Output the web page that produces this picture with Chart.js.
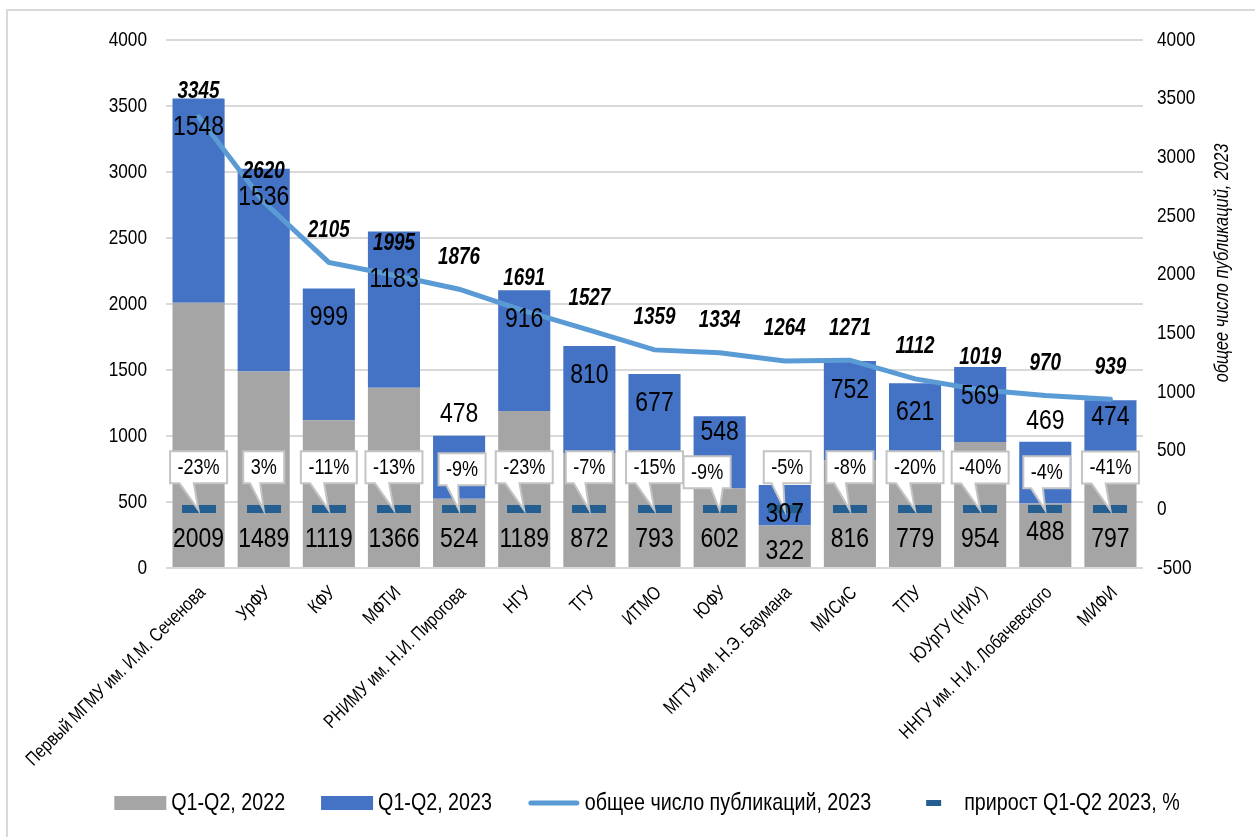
<!DOCTYPE html>
<html>
<head>
<meta charset="utf-8">
<script src="https://cdn.jsdelivr.net/npm/chart.js@4.4.0/dist/chart.umd.min.js"></script>
<style>
  html, body { margin: 0; padding: 0; background: #fff; }
  #box { position: relative; width: 1255px; height: 837px; }
</style>
</head>
<body>
<div id="box"><canvas id="chart" width="1255" height="837"></canvas></div>
<script>
// Data
const categories = ['Первый МГМУ им. И.М. Сеченова', 'УрФУ', 'КФУ', 'МФТИ', 'РНИМУ им. Н.И. Пирогова', 'НГУ', 'ТГУ', 'ИТМО', 'ЮФУ', 'МГТУ им. Н.Э. Баумана', 'МИСиС', 'ТПУ', 'ЮУрГУ (НИУ)', 'ННГУ им. Н.И. Лобачевского', 'МИФИ'];
const pubs2022 = [2009, 1489, 1119, 1366, 524, 1189, 872, 793, 602, 322, 816, 779, 954, 488, 797];
const pubs2023 = [1548, 1536, 999, 1183, 478, 916, 810, 677, 548, 307, 752, 621, 569, 469, 474];
const total2023 = [3345, 2620, 2105, 1995, 1876, 1691, 1527, 1359, 1334, 1264, 1271, 1112, 1019, 970, 939];
const growthPct = [-23, 3, -11, -13, -9, -23, -7, -15, -9, -5, -8, -20, -40, -4, -41];
const leftTicks = [0, 500, 1000, 1500, 2000, 2500, 3000, 3500, 4000];
const rightTicks = [-500, 0, 500, 1000, 1500, 2000, 2500, 3000, 3500, 4000];
const seriesNames = ['Q1-Q2, 2022', 'Q1-Q2, 2023', 'общее число публикаций, 2023', 'прирост Q1-Q2 2023, %'];
const rightTitle = 'общее число публикаций, 2023';

// Arial Narrow look: Liberation Sans squeezed horizontally
const FONT = "'Liberation Sans', Arial, sans-serif";
const SQUEEZE = 0.82;
const GRAY = '#a5a5a5', BLUE = '#4472c4', LINE = '#5b9bd5', DASH = '#255e91', GRID = '#d9d9d9';

// Label tweaks (offsets only, per category index)
const blueLabelDy = { 3: 48, 4: -21, 8: 16, 13: -20, 14: 17 };
const grayLabelDy = { 9: 16, 13: 35 };
const totalLabelDy = { 0: 25, 1: 30 };
const calloutPos = { 4: { dx: 3, dy: -24 }, 8: { dx: -12.5, dy: -21 }, 9: { dx: 2.5, dy: -26 }, 13: { dx: 1.5, dy: -21 } };

function text(ctx, txt, x, y, font, align = 'center', angle = 0) {
    ctx.save();
    ctx.translate(x, y);
    if (angle) ctx.rotate(angle);
    ctx.scale(SQUEEZE, 1);
    ctx.font = font;
    ctx.textAlign = align;
    ctx.textBaseline = 'middle';
    ctx.fillStyle = '#000';
    ctx.fillText(txt, 0, 0);
    ctx.restore();
}
function textWidth(ctx, txt, font) {
    ctx.save();
    ctx.font = font;
    const w = ctx.measureText(txt).width * SQUEEZE;
    ctx.restore();
    return w;
}

const dashMarker = (() => {
    const c = document.createElement('canvas');
    c.width = 34; c.height = 8;
    const g = c.getContext('2d');
    g.fillStyle = DASH; g.fillRect(0, 0, 34, 8);
    return c;
})();

const labelsPlugin = {
    id: 'valueLabels',
    afterDatasetsDraw(chart) {
        const ctx = chart.ctx;
        const area = chart.chartArea;
        const grayMeta = chart.getDatasetMeta(0);
        const blueMeta = chart.getDatasetMeta(1);
        const lineMeta = chart.getDatasetMeta(2);
        const dashMeta = chart.getDatasetMeta(3);

        // axis tick labels
        const tickFont = `21px ${FONT}`;
        const y = chart.scales.y, y2 = chart.scales.y2, x = chart.scales.x;
        y.ticks.forEach(t => text(ctx, String(t.value), area.left - 19, y.getPixelForValue(t.value), tickFont, 'right'));
        y2.ticks.forEach(t => text(ctx, String(t.value), area.right + 14, y2.getPixelForValue(t.value), tickFont, 'left'));
        categories.forEach((c, i) => text(ctx, c, x.getPixelForValue(i) + 4, area.bottom + 22, `19px ${FONT}`, 'right', -Math.PI / 4));
        text(ctx, rightTitle, 1222, 263, `italic 20px ${FONT}`, 'center', -Math.PI / 2);

        // gray bar values
        grayMeta.data.forEach((bar, i) => {
            const dy = grayLabelDy[i] !== undefined ? grayLabelDy[i] : 28;
            text(ctx, String(pubs2022[i]), bar.x, bar.base - dy, `28px ${FONT}`);
        });

        // callouts
        const cFont = `22px ${FONT}`;
        dashMeta.data.forEach((pt, i) => {
            const txt = growthPct[i] + '%';
            const pos = calloutPos[i] || { dx: 0, dy: -26 };
            const w = Math.round(textWidth(ctx, txt, cFont) + 15);
            const h = 32;
            const cx = pt.x + pos.dx;
            const left = cx - w / 2, bottom = pt.y + pos.dy, top = bottom - h;
            const tipRight = pt.x > cx;
            const b1 = left + w * (tipRight ? 7 : 2) / 12;
            const b2 = left + w * (tipRight ? 10 : 5) / 12;
            ctx.save();
            ctx.beginPath();
            ctx.moveTo(left, top);
            ctx.lineTo(left + w, top);
            ctx.lineTo(left + w, bottom);
            ctx.lineTo(b2, bottom);
            ctx.lineTo(pt.x, pt.y + 1);
            ctx.lineTo(b1, bottom);
            ctx.lineTo(left, bottom);
            ctx.closePath();
            ctx.fillStyle = '#fff';
            ctx.fill();
            ctx.strokeStyle = '#c4c4c4';
            ctx.lineWidth = 2;
            ctx.stroke();
            ctx.restore();
            text(ctx, txt, cx, top + h / 2 + 1, cFont);
        });

        // blue bar values
        blueMeta.data.forEach((bar, i) => {
            const dy = blueLabelDy[i] !== undefined ? blueLabelDy[i] : 29;
            text(ctx, String(pubs2023[i]), bar.x, bar.y + dy, `28px ${FONT}`);
        });

        // totals
        lineMeta.data.forEach((pt, i) => {
            const dy = totalLabelDy[i] !== undefined ? totalLabelDy[i] : 32;
            text(ctx, String(total2023[i]), pt.x, pt.y - dy, `italic bold 23px ${FONT}`);
        });

        // legend
        const lFont = `24px ${FONT}`;
        const ly = 803;
        const widths = seriesNames.map(s => 52 + 5 + textWidth(ctx, s, lFont));
        const total = widths.reduce((a, b) => a + b, 0) + 36 * (widths.length - 1);
        let lx = 647 - total / 2;
        seriesNames.forEach((s, i) => {
            ctx.save();
            if (i === 0 || i === 1) {
                ctx.fillStyle = i === 0 ? GRAY : BLUE;
                ctx.fillRect(lx, ly - 7, 52, 14);
            } else if (i === 2) {
                ctx.strokeStyle = LINE; ctx.lineWidth = 5; ctx.lineCap = 'round';
                ctx.beginPath(); ctx.moveTo(lx + 3, ly); ctx.lineTo(lx + 49, ly); ctx.stroke();
            } else {
                ctx.fillStyle = DASH;
                ctx.fillRect(lx + 19, ly - 3, 15, 6);
            }
            ctx.restore();
            text(ctx, s, lx + 57, ly, lFont, 'left');
            lx += widths[i] + 36;
        });

        // frame
        ctx.save();
        ctx.strokeStyle = GRID;
        ctx.lineWidth = 2;
        ctx.beginPath();
        ctx.moveTo(7, 837);
        ctx.lineTo(7, 10);
        ctx.lineTo(1255, 10);
        ctx.stroke();
        ctx.restore();
    }
};

new Chart(document.getElementById('chart'), {
    data: {
        labels: categories,
        datasets: [
            { type: 'bar', label: seriesNames[0], data: pubs2022, backgroundColor: GRAY, yAxisID: 'y', stack: 's', order: 2, barPercentage: 0.8, categoryPercentage: 1 },
            { type: 'bar', label: seriesNames[1], data: pubs2023, backgroundColor: BLUE, yAxisID: 'y', stack: 's', order: 3, barPercentage: 0.8, categoryPercentage: 1 },
            { type: 'line', label: seriesNames[2], data: total2023, borderColor: LINE, backgroundColor: LINE, borderWidth: 5, pointRadius: 0, tension: 0, borderCapStyle: 'round', yAxisID: 'y2', order: 1 },
            { type: 'line', label: seriesNames[3], data: growthPct.map(v => v / 100), showLine: false, pointStyle: dashMarker, pointRadius: 10, yAxisID: 'y2', order: 0 }
        ]
    },
    options: {
        responsive: false,
        animation: false,
        layout: { padding: { left: 0, right: 0, top: 40, bottom: 0 } },
        scales: {
            x: {
                offset: true,
                grid: { display: false },
                border: { display: false },
                ticks: { display: false },
                afterFit: s => { s.height = 269; }
            },
            y: {
                position: 'left',
                stacked: true,
                min: 0, max: 4000,
                afterBuildTicks: s => { s.ticks = leftTicks.map(v => ({ value: v })); },
                grid: { color: GRID, lineWidth: 2, drawTicks: false },
                border: { display: false },
                ticks: { display: false },
                afterFit: s => { s.width = 166; }
            },
            y2: {
                position: 'right',
                min: -500, max: 4000,
                afterBuildTicks: s => { s.ticks = rightTicks.map(v => ({ value: v })); },
                grid: { display: false, drawTicks: false },
                border: { display: false },
                ticks: { display: false },
                afterFit: s => { s.width = 112; }
            }
        },
        plugins: {
            tooltip: { enabled: false },
            legend: { display: false }
        }
    },
    plugins: [labelsPlugin]
});
</script>
</body>
</html>
